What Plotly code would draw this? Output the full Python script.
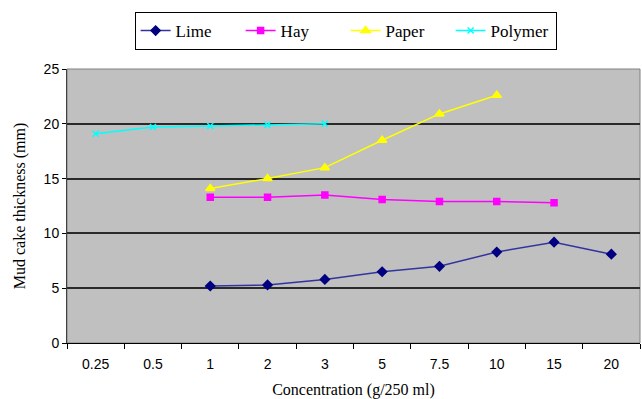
import plotly.graph_objects as go

# Concentration categories (g/250 ml)
concentrations = ["0.25", "0.5", "1", "2", "3", "5", "7.5", "10", "15", "20"]

lime_x = ["1", "2", "3", "5", "7.5", "10", "15", "20"]
lime_y = [5.2, 5.3, 5.8, 6.5, 7.0, 8.3, 9.2, 8.1]

hay_x = ["1", "2", "3", "5", "7.5", "10", "15"]
hay_y = [13.3, 13.3, 13.5, 13.1, 12.9, 12.9, 12.8]

paper_x = ["1", "2", "3", "5", "7.5", "10"]
paper_y = [14.1, 15.0, 16.0, 18.5, 20.9, 22.6]

polymer_x = ["0.25", "0.5", "1", "2", "3"]
polymer_y = [19.1, 19.7, 19.8, 19.9, 20.0]

y_ticks = [0, 5, 10, 15, 20, 25]

fig = go.Figure()

series = [
    ("Lime", lime_x, lime_y, "#000080", "#3333A0", "diamond", 7),
    ("Hay", hay_x, hay_y, "#FF00FF", "#FF00FF", "square", 6),
    ("Paper", paper_x, paper_y, "#FFFF00", "#FFFF00", "triangle-up", 8),
    ("Polymer", polymer_x, polymer_y, "#00FFFF", "#00FFFF", "x-thin", 6),
]

for name, xs, ys, mcol, lcol, sym, size in series:
    fig.add_trace(go.Scatter(
        x=xs, y=ys, name=name, mode="lines+markers",
        line=dict(color=lcol, width=1.5),
        marker=dict(symbol=sym, size=size, color=mcol,
                    line=dict(color=mcol, width=1.5)),
    ))

fig.update_layout(
    width=642, height=399,
    margin=dict(l=67, r=2, t=69, b=56),
    paper_bgcolor="white",
    plot_bgcolor="#C0C0C0",
    font=dict(family="Liberation Sans, Arial", size=12, color="black"),
    showlegend=True,
    legend=dict(
        orientation="h",
        x=0.118, y=1.208, xanchor="left", yanchor="top",
        bordercolor="black", borderwidth=1, bgcolor="white",
        font=dict(family="Liberation Serif, Times New Roman", size=17, color="black"),
        entrywidth=60, entrywidthmode="pixels",
        itemwidth=30,
    ),
    xaxis=dict(
        type="category",
        categoryorder="array", categoryarray=concentrations,
        range=[-0.5, len(concentrations) - 0.5],
        tickson="boundaries", ticks="outside", ticklen=5, tickcolor="black",
        ticklabelstandoff=8,
        showline=True, linecolor="black", linewidth=1,
        showgrid=False, zeroline=False,
        tickfont=dict(family="Liberation Sans, Arial", size=14),
        title=dict(text="Concentration (g/250 ml)",
                   font=dict(family="Liberation Serif, Times New Roman", size=16),
                   standoff=13),
    ),
    yaxis=dict(
        range=[0, 25], tickvals=y_ticks,
        ticks="outside", ticklen=4, tickcolor="black",
        showline=True, linecolor="#404040", linewidth=1,
        showgrid=True, gridcolor="#2a2a2a", gridwidth=1.5,
        zeroline=False,
        tickfont=dict(family="Liberation Sans, Arial", size=14),
        title=dict(text="Mud cake thickness (mm)",
                   font=dict(family="Liberation Serif, Times New Roman", size=16),
                   standoff=14),
    ),
    shapes=[dict(type="rect", xref="paper", yref="paper", x0=0, y0=0, x1=1, y1=1,
                 line=dict(color="#808080", width=1), layer="below")],
)

fig.write_html("out.html")
